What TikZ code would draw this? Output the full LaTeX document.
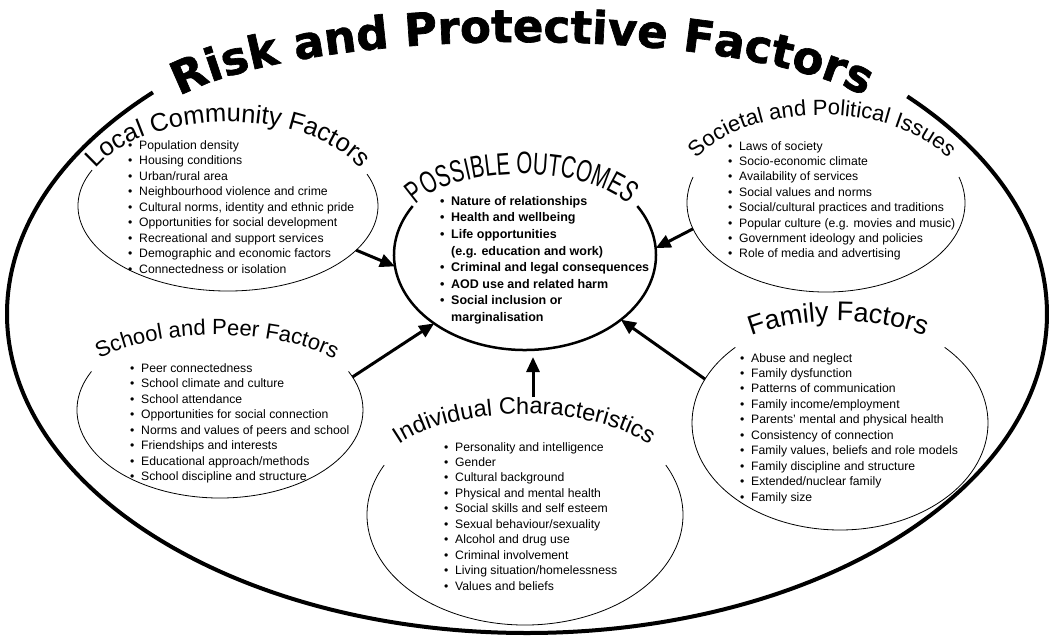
\documentclass[tikz,border=0pt]{standalone}
\usepackage{fontspec}
\setmainfont{Liberation Sans}
\newfontfamily\titlefont{DejaVu Sans}[BoldFeatures={FakeBold=1.5}]
\newfontfamily\narrowfont{Liberation Sans}[FakeStretch=0.66]
\usepackage{tikz}
\usetikzlibrary{arrows.meta,shapes.geometric,decorations.text}
\newcommand{\itembul}{\makebox[11pt][l]{\textbullet}}
\newcommand{\itemgap}{\makebox[11pt][l]{}}

\begin{document}
\begin{tikzpicture}[x=1pt,y=1pt,>={Triangle[length=15pt,width=13pt]},
  blob/.style={ellipse,inner sep=0pt,outer sep=0pt},
  rim/.style={line width=0.8pt},
  list/.style={anchor=north west,align=left,inner sep=0pt,
               font=\fontsize{12.2}{15.5}\selectfont},
  head/.style={decorate,decoration={text along path,text align=center,text={#1}}},
  link/.style={->,line width=3pt}]
  \useasboundingbox (0,0) rectangle (1051,-644);

  % outer frame and title
  \draw[line width=4pt] (527,-314) ++(136:520 and 319)
    arc[start angle=136,end angle=403,x radius=520,y radius=319];
  \path[head={|\titlefont\bfseries\fontsize{45}{45}\selectfont|Risk and Protective Factors}]
    (522,-132) ++(175:373 and 90) arc[start angle=175,end angle=5,x radius=373,y radius=90];

  % the six ellipses
  \node[blob,minimum width=262pt,minimum height=190pt] (out) at (525,-255) {};
  \node[blob,minimum width=300pt,minimum height=170pt] (lc) at (228,-206) {};
  \node[blob,minimum width=278pt,minimum height=178pt] (soc) at (826,-203) {};
  \node[blob,minimum width=286pt,minimum height=176pt] (school) at (220,-410) {};
  \node[blob,minimum width=316pt,minimum height=220pt] (ind) at (525,-515) {};
  \node[blob,minimum width=296pt,minimum height=214pt] (fam) at (840,-423) {};

  \draw[line width=2.5pt] (out.center) ++(149:131 and 95)
    arc[start angle=149,end angle=391,x radius=131,y radius=95];
  \draw[rim] (lc.center) ++(155:150 and 85)
    arc[start angle=155,end angle=382,x radius=150,y radius=85];
  \draw[rim] (soc.center) ++(163:139 and 89)
    arc[start angle=163,end angle=377,x radius=139,y radius=89];
  \draw[rim] (school.center) ++(154:143 and 88)
    arc[start angle=154,end angle=386,x radius=143,y radius=88];
  \draw[rim] (ind.center) ++(153:158 and 110)
    arc[start angle=153,end angle=387,x radius=158,y radius=110];
  \draw[rim] (fam.center) ++(135:148 and 107)
    arc[start angle=135,end angle=405,x radius=148,y radius=107];

  % curved headings
  \path[head={|\narrowfont\fontsize{31}{31}\selectfont|POSSIBLE OUTCOMES}]
    (522,-226) ++(178:116 and 52) arc[start angle=178,end angle=2,x radius=116,y radius=52];
  \path[head={|\fontsize{25.5}{25.5}\selectfont|Local Community Factors}]
    (228,-202) ++(170:146 and 80) arc[start angle=170,end angle=10,x radius=146,y radius=80];
  \path[head={|\fontsize{22}{22}\selectfont|Societal and Political Issues}]
    (822,-195) ++(170:141 and 80) arc[start angle=170,end angle=10,x radius=141,y radius=80];
  \path[head={|\fontsize{22}{22}\selectfont|School and Peer Factors}]
    (217,-400) ++(170:152 and 65) arc[start angle=170,end angle=10,x radius=152,y radius=65];
  \path[head={|\fontsize{23.5}{23.5}\selectfont|Individual Characteristics}]
    (524,-482) ++(170:150 and 68) arc[start angle=170,end angle=10,x radius=150,y radius=68];
  \path[head={|\fontsize{27}{27}\selectfont|Family Factors}]
    (838,-400) ++(170:150 and 79) arc[start angle=170,end angle=10,x radius=150,y radius=79];

  % lists
  \node[list,font=\bfseries\fontsize{12.5}{16.6}\selectfont] (outlist) at (440,-196)
    {\itembul Nature of relationships\\
     \itembul Health and wellbeing\\
     \itembul Life opportunities\\
     \itemgap (e.g. education and work)\\
     \itembul Criminal and legal consequences\\
     \itembul AOD use and related harm\\
     \itembul Social inclusion or\\
     \itemgap marginalisation};
  \node[list] (lclist) at (128,-140)
    {\itembul Population density\\
     \itembul Housing conditions\\
     \itembul Urban/rural area\\
     \itembul Neighbourhood violence and crime\\
     \itembul Cultural norms, identity and ethnic pride\\
     \itembul Opportunities for social development\\
     \itembul Recreational and support services\\
     \itembul Demographic and economic factors\\
     \itembul Connectedness or isolation};
  \node[list,font=\fontsize{12.2}{15.4}\selectfont] (soclist) at (728,-141)
    {\itembul Laws of society\\
     \itembul Socio-economic climate\\
     \itembul Availability of services\\
     \itembul Social values and norms\\
     \itembul Social/cultural practices and traditions\\
     \itembul Popular culture (e.g. movies and music)\\
     \itembul Government ideology and policies\\
     \itembul Role of media and advertising};
  \node[list] (schoollist) at (130,-363)
    {\itembul Peer connectedness\\
     \itembul School climate and culture\\
     \itembul School attendance\\
     \itembul Opportunities for social connection\\
     \itembul Norms and values of peers and school\\
     \itembul Friendships and interests\\
     \itembul Educational approach/methods\\
     \itembul School discipline and structure};
  \node[list,font=\fontsize{12.2}{15.45}\selectfont] (indlist) at (444,-442)
    {\itembul Personality and intelligence\\
     \itembul Gender\\
     \itembul Cultural background\\
     \itembul Physical and mental health\\
     \itembul Social skills and self esteem\\
     \itembul Sexual behaviour/sexuality\\
     \itembul Alcohol and drug use\\
     \itembul Criminal involvement\\
     \itembul Living situation/homelessness\\
     \itembul Values and beliefs};
  \node[list,font=\fontsize{12.2}{15.45}\selectfont] (famlist) at (740,-353)
    {\itembul Abuse and neglect\\
     \itembul Family dysfunction\\
     \itembul Patterns of communication\\
     \itembul Family income/employment\\
     \itembul Parents' mental and physical health\\
     \itembul Consistency of connection\\
     \itembul Family values, beliefs and role models\\
     \itembul Family discipline and structure\\
     \itembul Extended/nuclear family\\
     \itembul Family size};

  % arrows into the outcomes
  \draw[link] (lc.-19) -- (out.185);
  \draw[link] (school.14) -- (out.217);
  \draw[link] ([shift={(8pt,8pt)}]ind.north) -- ([shift={(8pt,-7pt)}]out.south);
  \draw[link] (fam.162) -- (out.-34);
  \draw[link] (soc.191) -- (out.3);
\end{tikzpicture}
\end{document}
